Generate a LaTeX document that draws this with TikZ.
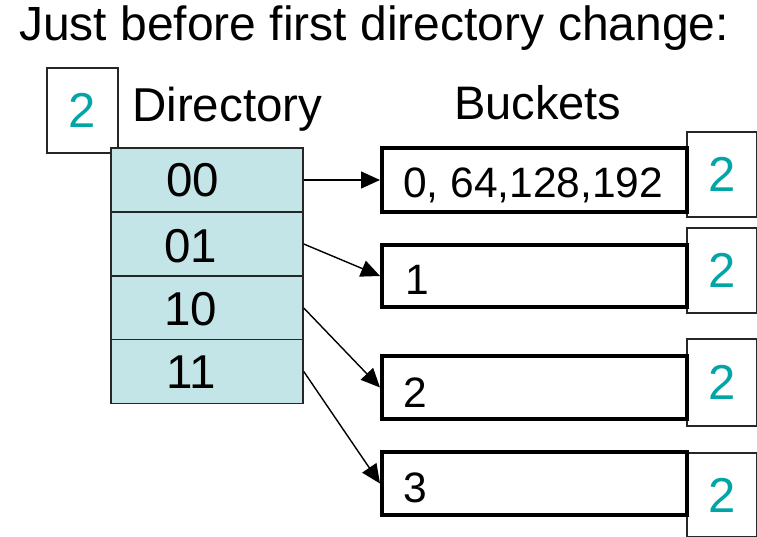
\documentclass[tikz,border=0pt]{standalone}
\usepackage{fontspec}
\setmainfont{Liberation Sans}
\usetikzlibrary{arrows.meta}
\definecolor{depthteal}{RGB}{0,166,166}
\definecolor{dirfill}{RGB}{196,229,231}
\tikzset{
  big/.style={font=\fontsize{47.5}{50}\selectfont},
  mid/.style={font=\fontsize{42.5}{46}\selectfont},
  depthbox/.style={draw=black!85, line width=1.5pt, fill=white, inner sep=0pt,
    text=depthteal, font=\fontsize{49}{49}\selectfont},
  dircell/.style={draw=black!85, line width=1.5pt, fill=dirfill, inner sep=0pt,
    minimum width=192pt, minimum height=64pt},
  bucketbox/.style={draw=black, line width=4pt, fill=white, inner sep=0pt,
    minimum width=305pt},
  ptr/.style={line width=1.4pt, -{Triangle[length=19pt,width=17pt]}}
}
\begin{document}
\begin{tikzpicture}[x=1pt,y=-1pt]
\clip (0,0) rectangle (757,537);
\fill[white] (0,0) rectangle (757,537);

% heading and column titles
\node[font=\fontsize{48}{50}\selectfont, anchor=base west, inner sep=0pt] (title) at (19,41) {Just before first directory change:};
\node[big, anchor=base west, inner sep=0pt] (dirlabel) at (132,122) {Directory};
\node[font=\fontsize{47}{50}\selectfont, anchor=base west, inner sep=0pt] (bktlabel) at (454,120) {Buckets};

% global depth
\node[depthbox, minimum width=71pt, minimum height=85pt] (gd) at (82.5,110.5) {2};

% directory cells
\node[dircell] (d00) at (207,180) {};
\node[dircell] (d01) at (207,244) {};
\node[dircell] (d10) at (207,308) {};
\node[dircell] (d11) at (207,371.5) {};
\node[big, anchor=base, inner sep=0pt] (t00) at (193,197) {00};
\node[big, anchor=base, inner sep=0pt] (t01) at (191,262) {01};
\node[big, anchor=base, inner sep=0pt] (t10) at (191,325) {10};
\node[big, anchor=base, inner sep=0pt] (t11) at (191,388) {11};

% local depths
\node[depthbox, minimum width=70pt, minimum height=85pt] (ld0) at (722,174.5) {2};
\node[depthbox, minimum width=70pt, minimum height=85pt] (ld1) at (722,270.5) {2};
\node[depthbox, minimum width=70pt, minimum height=87pt] (ld2) at (722,382.5) {2};
\node[depthbox, minimum width=70pt, minimum height=84pt] (ld3) at (722,495) {2};

% buckets
\node[bucketbox, minimum height=64pt] (b0) at (534.5,180) {};
\node[bucketbox, minimum height=62pt] (b1) at (534.5,276) {};
\node[bucketbox, minimum height=63pt] (b2) at (534.5,387.5) {};
\node[bucketbox, minimum height=63pt] (b3) at (534.5,483.5) {};
\node[mid, anchor=base west, inner sep=0pt] (c0) at (403,198) {0, 64,128,192};
\node[mid, anchor=base west, inner sep=0pt] (c1) at (405,294) {1};
\node[mid, anchor=base west, inner sep=0pt] (c2) at (403,407) {2};
\node[mid, anchor=base west, inner sep=0pt] (c3) at (403,502) {3};

% directory pointers
\draw[ptr] (d00.east) -- (b0.west);
\draw[ptr] (d01.east) -- (b1.west);
\draw[ptr] (d10.east) -- (b2.west);
\draw[ptr] (d11.east) -- (b3.west);
\end{tikzpicture}
\end{document}
